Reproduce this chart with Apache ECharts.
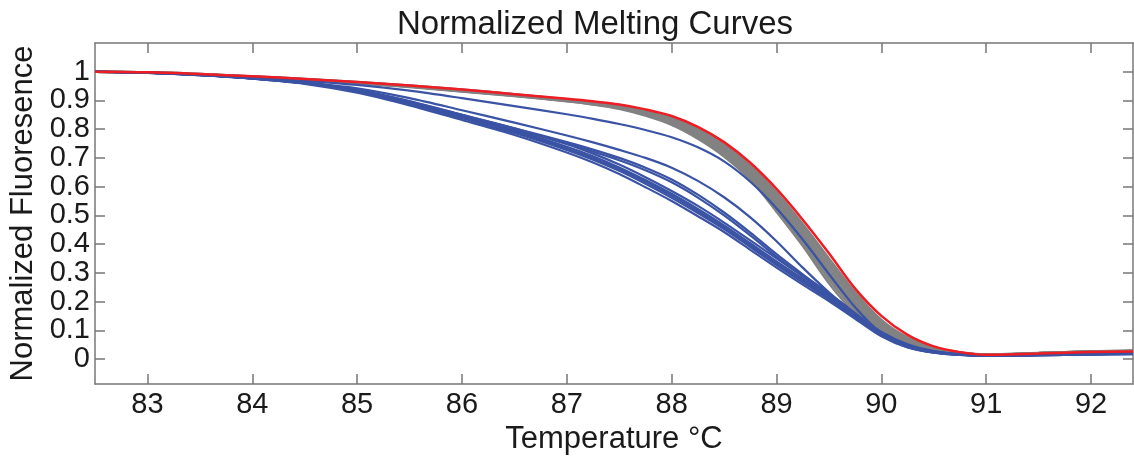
<!DOCTYPE html>
<html>
<head>
	<meta charset="utf-8">
	<title>Normalized Melting Curves</title>
	<script type="text/javascript" src="https://cdn.jsdelivr.net/npm/echarts@6/dist/echarts.min.js"></script>
	<style>
		html, body { margin: 0; padding: 0; background: #fff; }
		#main { width: 1134px; height: 459px; }
	</style>
</head>
<body>
<div id="main"></div>
<script type="text/javascript">

    // temperature sample points (deg C)
    var temps = [82.5, 83, 83.5, 84, 84.5, 85, 85.5, 86, 86.5, 87, 87.25, 87.5, 87.75, 88, 88.25, 88.5, 88.75, 89, 89.25, 89.5, 89.75, 90, 90.25, 90.5, 90.75, 91, 91.5, 92, 92.4];

    var xTicks = [83, 84, 85, 86, 87, 88, 89, 90, 91, 92];
    var yTicks = [0, 0.1, 0.2, 0.3, 0.4, 0.5, 0.6, 0.7, 0.8, 0.9, 1];
    // labels split in two sets so neighbouring labels are never dropped
    var yLabelsEven = [0, 0.2, 0.4, 0.6, 0.8, 1];
    var yLabelsOdd = [0.1, 0.3, 0.5, 0.7, 0.9];

    // red curve
    var red = [1.000, 0.998, 0.992, 0.984, 0.975, 0.964, 0.952, 0.938, 0.922, 0.906, 0.897, 0.886, 0.869, 0.846, 0.808, 0.755, 0.683, 0.592, 0.485, 0.368, 0.245, 0.150, 0.084, 0.044, 0.024, 0.015, 0.019, 0.024, 0.026];

    // gray curves
    var gray1 = [1.000, 0.998, 0.992, 0.984, 0.975, 0.964, 0.952, 0.938, 0.922, 0.904, 0.895, 0.884, 0.866, 0.842, 0.802, 0.747, 0.673, 0.580, 0.470, 0.350, 0.232, 0.136, 0.075, 0.041, 0.023, 0.016, 0.021, 0.027, 0.029];
    var gray2 = [1.000, 0.998, 0.992, 0.984, 0.974, 0.963, 0.951, 0.937, 0.921, 0.903, 0.894, 0.882, 0.863, 0.838, 0.797, 0.741, 0.666, 0.571, 0.460, 0.338, 0.222, 0.129, 0.071, 0.039, 0.022, 0.016, 0.021, 0.027, 0.029];
    var gray3 = [1.000, 0.998, 0.991, 0.983, 0.974, 0.963, 0.950, 0.936, 0.920, 0.902, 0.892, 0.880, 0.861, 0.834, 0.792, 0.735, 0.658, 0.561, 0.449, 0.326, 0.212, 0.122, 0.067, 0.038, 0.022, 0.015, 0.021, 0.026, 0.028];
    var gray4 = [1.000, 0.998, 0.991, 0.983, 0.973, 0.962, 0.950, 0.935, 0.919, 0.901, 0.891, 0.878, 0.858, 0.830, 0.787, 0.729, 0.651, 0.551, 0.438, 0.314, 0.201, 0.115, 0.063, 0.036, 0.021, 0.015, 0.020, 0.026, 0.028];
    var gray5 = [1.000, 0.997, 0.991, 0.982, 0.973, 0.962, 0.949, 0.934, 0.918, 0.900, 0.890, 0.877, 0.855, 0.827, 0.782, 0.723, 0.644, 0.541, 0.427, 0.302, 0.191, 0.107, 0.059, 0.034, 0.021, 0.015, 0.020, 0.026, 0.028];
    var gray6 = [1.000, 0.997, 0.990, 0.982, 0.972, 0.961, 0.948, 0.933, 0.917, 0.899, 0.889, 0.875, 0.852, 0.823, 0.777, 0.717, 0.637, 0.531, 0.416, 0.289, 0.180, 0.100, 0.055, 0.032, 0.020, 0.014, 0.020, 0.025, 0.027];
    var gray7 = [1.000, 0.997, 0.990, 0.981, 0.972, 0.961, 0.948, 0.932, 0.916, 0.898, 0.887, 0.873, 0.850, 0.819, 0.772, 0.711, 0.630, 0.522, 0.405, 0.277, 0.170, 0.093, 0.051, 0.031, 0.020, 0.014, 0.019, 0.025, 0.027];
    var gray8 = [1.000, 0.997, 0.990, 0.981, 0.971, 0.960, 0.947, 0.931, 0.915, 0.897, 0.886, 0.871, 0.847, 0.815, 0.767, 0.705, 0.624, 0.513, 0.394, 0.264, 0.159, 0.086, 0.047, 0.029, 0.019, 0.014, 0.019, 0.024, 0.026];

    // blue curves
    var blueA  = [1.000, 0.998, 0.990, 0.980, 0.968, 0.954, 0.934, 0.908, 0.880, 0.852, 0.836, 0.818, 0.797, 0.772, 0.737, 0.688, 0.617, 0.525, 0.416, 0.296, 0.180, 0.090, 0.046, 0.027, 0.017, 0.013, 0.015, 0.018, 0.020];
    var blueB1 = [1.000, 0.997, 0.989, 0.977, 0.963, 0.942, 0.908, 0.866, 0.823, 0.778, 0.754, 0.728, 0.700, 0.666, 0.620, 0.563, 0.493, 0.410, 0.318, 0.232, 0.156, 0.094, 0.051, 0.028, 0.017, 0.013, 0.015, 0.018, 0.020];
    var blueB2 = [1.000, 0.997, 0.989, 0.977, 0.961, 0.935, 0.896, 0.850, 0.803, 0.755, 0.729, 0.700, 0.666, 0.625, 0.572, 0.510, 0.440, 0.365, 0.295, 0.228, 0.158, 0.092, 0.048, 0.026, 0.016, 0.012, 0.014, 0.017, 0.019];
    var blueB3 = [1.000, 0.997, 0.989, 0.977, 0.960, 0.934, 0.895, 0.847, 0.800, 0.750, 0.722, 0.692, 0.657, 0.615, 0.562, 0.500, 0.430, 0.356, 0.287, 0.222, 0.154, 0.089, 0.047, 0.026, 0.016, 0.012, 0.014, 0.017, 0.019];
    var blueC1 = [1.000, 0.997, 0.989, 0.977, 0.961, 0.937, 0.898, 0.850, 0.803, 0.748, 0.715, 0.677, 0.633, 0.585, 0.533, 0.475, 0.413, 0.350, 0.289, 0.228, 0.160, 0.091, 0.046, 0.025, 0.015, 0.012, 0.013, 0.016, 0.018];
    var blueC2 = [1.000, 0.997, 0.989, 0.977, 0.961, 0.934, 0.893, 0.845, 0.796, 0.739, 0.706, 0.667, 0.623, 0.575, 0.522, 0.465, 0.403, 0.340, 0.279, 0.220, 0.153, 0.087, 0.045, 0.024, 0.015, 0.012, 0.013, 0.016, 0.018];
    var blueC3 = [1.000, 0.997, 0.988, 0.977, 0.960, 0.932, 0.890, 0.842, 0.792, 0.733, 0.700, 0.661, 0.617, 0.568, 0.515, 0.458, 0.396, 0.333, 0.273, 0.214, 0.149, 0.084, 0.043, 0.023, 0.015, 0.011, 0.013, 0.016, 0.018];
    var blueC4 = [1.000, 0.996, 0.988, 0.976, 0.959, 0.930, 0.887, 0.838, 0.787, 0.728, 0.694, 0.655, 0.610, 0.561, 0.508, 0.452, 0.390, 0.327, 0.267, 0.209, 0.145, 0.082, 0.041, 0.022, 0.014, 0.011, 0.013, 0.016, 0.017];
    var blueC5 = [1.000, 0.996, 0.988, 0.976, 0.958, 0.927, 0.883, 0.832, 0.780, 0.719, 0.684, 0.644, 0.598, 0.550, 0.497, 0.442, 0.380, 0.318, 0.259, 0.202, 0.140, 0.079, 0.040, 0.022, 0.014, 0.011, 0.013, 0.016, 0.017];

    var grays = [gray8, gray7, gray6, gray5, gray4, gray3, gray2, gray1];
    var blues = [blueA, blueB1, blueB2, blueB3, blueC1, blueC2, blueC3, blueC4, blueC5];

    var FONT = '"Liberation Sans", Arial, Helvetica, sans-serif';

    function pairs(vals) {
        var out = [];
        for (var i = 0; i < temps.length; i++) {
            out.push([temps[i], vals[i]]);
        }
        return out;
    }

    function curve(vals, color, width) {
        return {
            type: 'line',
            data: pairs(vals),
            showSymbol: false,
            smooth: 0.3,
            lineStyle: { color: color, width: width },
            silent: true
        };
    }

    var series = [];
    grays.forEach(function (g) { series.push(curve(g, '#828282', 2.4)); });
    blues.forEach(function (b) { series.push(curve(b, '#3a53a4', 2.2)); });
    series.push(curve(red, '#ee1d24', 2.5));

    var tickStyle = { show: true, inside: true, length: 10, lineStyle: { color: '#777777', width: 1.5 } };
    var lineStyle = { show: true, onZero: false, lineStyle: { color: '#777777', width: 1.5 } };
    var yLabelStyle = { margin: 5, fontFamily: FONT, fontSize: 29, color: '#1a1a1a', padding: [5, 0, 0, 0] };

    var myChart = echarts.init(document.getElementById('main'), null, { renderer: 'canvas' });

    var option = {
        animation: false,
        backgroundColor: '#ffffff',
        title: {
            text: 'Normalized Melting Curves',
            left: 590,
            top: 3,
            textAlign: 'center',
            textStyle: { fontFamily: FONT, fontSize: 33, fontWeight: 'normal', color: '#1a1a1a' }
        },
        grid: { left: 95, right: 1, top: 43, bottom: 75, outerBoundsMode: 'none', containLabel: false },
        xAxis: [
            {
                type: 'value',
                min: 82.5,
                max: 92.4,
                position: 'bottom',
                name: 'Temperature °C',
                nameLocation: 'middle',
                nameGap: 39,
                nameTextStyle: { fontFamily: FONT, fontSize: 31, color: '#1a1a1a' },
                axisLine: lineStyle,
                axisTick: Object.assign({ customValues: xTicks }, tickStyle),
                axisLabel: { customValues: xTicks, margin: 6, fontFamily: FONT, fontSize: 29, color: '#1a1a1a' },
                splitLine: { show: false }
            },
            {
                type: 'value',
                min: 82.5,
                max: 92.4,
                position: 'top',
                axisLine: lineStyle,
                axisTick: Object.assign({ customValues: xTicks }, tickStyle),
                axisLabel: { show: false },
                splitLine: { show: false }
            }
        ],
        yAxis: [
            {
                type: 'value',
                min: -0.087,
                max: 1.1,
                position: 'left',
                name: 'Normalized Fluoresence',
                nameLocation: 'middle',
                nameGap: 53,
                nameTextStyle: { fontFamily: FONT, fontSize: 31, color: '#1a1a1a' },
                axisLine: lineStyle,
                axisTick: Object.assign({ customValues: yTicks }, tickStyle),
                axisLabel: Object.assign({ customValues: yLabelsEven, showMinLabel: true, showMaxLabel: true }, yLabelStyle),
                splitLine: { show: false }
            },
            {
                type: 'value',
                min: -0.087,
                max: 1.1,
                position: 'left',
                offset: 0,
                axisLine: { show: false },
                axisTick: { show: false },
                axisLabel: Object.assign({ customValues: yLabelsOdd, showMinLabel: true, showMaxLabel: true }, yLabelStyle),
                splitLine: { show: false }
            },
            {
                type: 'value',
                min: -0.087,
                max: 1.1,
                position: 'right',
                axisLine: lineStyle,
                axisTick: Object.assign({ customValues: yTicks }, tickStyle),
                axisLabel: { show: false },
                splitLine: { show: false }
            }
        ],
        series: series
    };

    myChart.setOption(option);
</script>
</body>
</html>
